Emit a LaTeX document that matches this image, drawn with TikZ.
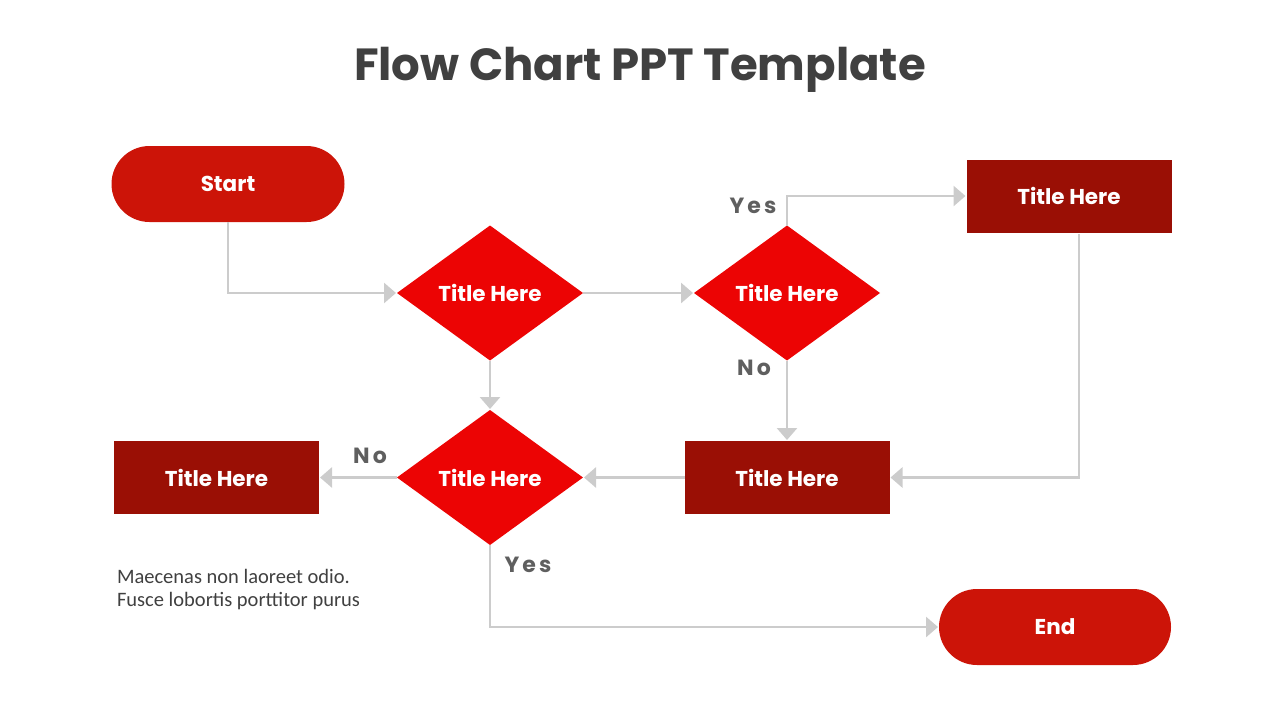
\documentclass[tikz,border=0pt]{standalone}
\usepackage{fontspec}
\setmainfont{Poppins}
\newfontfamily\bodyfont{Carlito}
\usetikzlibrary{shapes.geometric,arrows.meta}
\definecolor{pillred}{RGB}{204,20,8}
\definecolor{diared}{RGB}{236,4,4}
\definecolor{boxred}{RGB}{154,15,5}
\definecolor{linegray}{RGB}{204,204,204}
\definecolor{labgray}{RGB}{95,95,95}
\definecolor{titlegray}{RGB}{64,64,64}
\tikzset{
  every node/.style={inner sep=0pt, outer sep=0pt},
  nodetext/.style={text=white, font=\fontsize{21.5}{25}\selectfont\bfseries},
  pill/.style={nodetext, fill=pillred, rounded corners=38pt, minimum width=233pt, minimum height=76pt},
  decision/.style={nodetext, fill=diared, diamond, minimum width=186pt, minimum height=135pt, aspect=1.38},
  procbox/.style={nodetext, fill=boxred, minimum width=205pt, minimum height=73pt},
  conn/.style={draw=linegray, line width=2.8pt, -{Triangle[width=20pt,length=12pt]}, shorten >=1pt},
  lab/.style={text=labgray, font=\fontsize{22}{26}\selectfont\bfseries\addfontfeature{LetterSpace=14}},
}
\begin{document}
\begin{tikzpicture}[x=1pt,y=-1pt]
\useasboundingbox (0,0) rectangle (1280,720);
\node[text=titlegray, font=\fontsize{45}{54}\selectfont\bfseries] (title) at (640,70) {Flow Chart PPT Template};

\node[pill] (start) at (228,184) {\raisebox{-2pt}{Start}};
\node[decision] (d1) at (490,293) {Title Here};
\node[decision] (d2) at (787,293) {Title Here};
\node[procbox] (tr) at (1069,196) {Title Here};
\node[procbox] (mid) at (787,477.5) {Title Here};
\node[decision] (d3) at (490,477.5) {Title Here};
\node[procbox] (left) at (216.5,477.5) {Title Here};
\node[pill, minimum width=232pt] (end) at (1055,627) {End};

\coordinate (trb) at (1079,234);

\draw[conn] (start.south) |- (d1.west);
\draw[conn] (d1.east) -- (d2.west);
\draw[conn] (d2.north) |- (tr.west);
\draw[conn] (trb) |- (mid.east);
\draw[conn] (d2.south) -- (mid.north);
\draw[conn] (d1.south) -- (d3.north);
\draw[conn] (mid.west) -- (d3.east);
\draw[conn] (d3.west) -- (left.east);
\draw[conn] (d3.south) |- (end.west);

\node[lab] (l1) at (753,206) {Yes};
\node[lab] (l2) at (754,368) {No};
\node[lab] (l3) at (370,456) {No};
\node[lab] (l4) at (528,565) {Yes};

\node[anchor=north west, align=left, text=titlegray, font=\bodyfont\fontsize{20.5}{23.5}\selectfont] (txt) at (117,569) {Maecenas non laoreet odio.\\Fusce lobortis porttitor purus};
\end{tikzpicture}
\end{document}
